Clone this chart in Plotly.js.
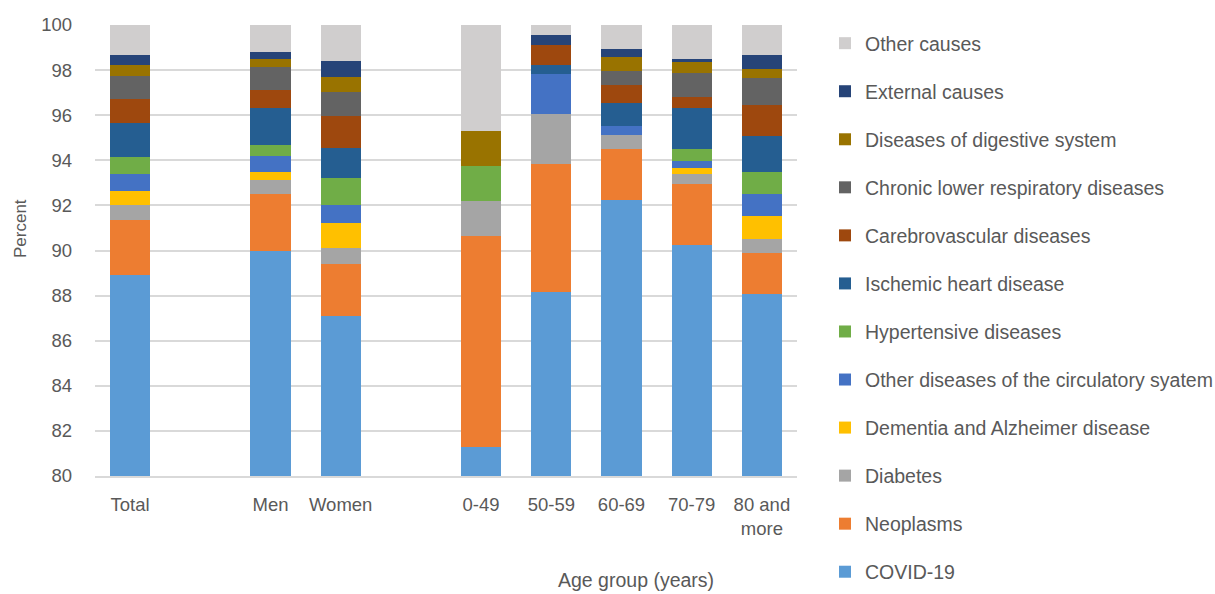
<!DOCTYPE html>
<html>
<head>
<meta charset="utf-8">
<script src="https://cdn.plot.ly/plotly-3.0.1.min.js"></script>
<style>html,body{margin:0;padding:0;background:#fff;}#chart{width:1215px;height:594px;}</style>
</head>
<body>
<div id="chart"></div>
<script>
// Category slots (blank slots give the gaps between groups)
var categoryOrder = ["Total", " ", "Men", "Women", "  ", "0-49", "50-59", "60-69", "70-79", "80 and<br>more"];
var categories = ["Total", "Men", "Women", "0-49", "50-59", "60-69", "70-79", "80 and<br>more"];

// Series (bottom to top), percent of deaths
var covid      = [88.92, 90.00, 87.09, 81.27, 88.16, 92.26, 90.25, 88.06];
var neoplasms  = [2.44, 2.51, 2.32, 9.37, 5.68, 2.22, 2.72, 1.83];
var diabetes   = [0.64, 0.61, 0.69, 1.55, 2.20, 0.62, 0.44, 0.61];
var dementia   = [0.63, 0.35, 1.10, 0, 0, 0, 0.25, 1.03];
var otherCirc  = [0.77, 0.73, 0.82, 0, 1.78, 0.42, 0.29, 0.98];
var hypert     = [0.74, 0.47, 1.20, 1.55, 0, 0, 0.53, 0.99];
var ischemic   = [1.53, 1.64, 1.34, 0, 0.40, 1.01, 1.83, 1.59];
var cerebro    = [1.04, 0.80, 1.42, 0, 0.89, 0.80, 0.50, 1.38];
var chronic    = [1.01, 1.01, 1.07, 0, 0, 0.61, 1.05, 1.16];
var digestive  = [0.51, 0.38, 0.64, 1.56, 0, 0.64, 0.51, 0.44];
var external   = [0.42, 0.30, 0.71, 0, 0.43, 0.37, 0.13, 0.58];
var otherCause = [1.35, 1.20, 1.60, 4.70, 0.46, 1.05, 1.50, 1.35];

var seriesNames = ["COVID-19", "Neoplasms", "Diabetes", "Dementia and Alzheimer disease",
  "Other diseases of the circulatory syatem", "Hypertensive diseases", "Ischemic heart disease",
  "Carebrovascular diseases", "Chronic lower respiratory diseases", "Diseases of digestive system",
  "External causes", "Other causes"];
var seriesValues = [covid, neoplasms, diabetes, dementia, otherCirc, hypert, ischemic, cerebro,
  chronic, digestive, external, otherCause];
var seriesColors = ["#5B9BD5", "#ED7D31", "#A5A5A5", "#FFC000", "#4472C4", "#70AD47", "#255E91",
  "#9E480E", "#636363", "#997300", "#264478", "#D0CECE"];

var yTicks = [80, 82, 84, 86, 88, 90, 92, 94, 96, 98, 100];

var FONT = "Liberation Sans, Arial, sans-serif";
var TXT = "#595959";

var traces = seriesNames.map(function (n, i) {
  return {
    type: "bar",
    name: n,
    x: categories,
    y: seriesValues[i],
    legendgroup: "g" + i,
    legendrank: seriesNames.length - i,
    marker: { color: seriesColors[i], line: { width: 0 } },
    hoverinfo: "name+y"
  };
});

var W = 1215, H = 594, L = 95, R = 418, T = 25, B = 118;
var pw = W - L - R, ph = H - T - B;

var layout = {
  width: W, height: H,
  margin: { l: L, r: R, t: T, b: B, pad: 0, autoexpand: false },
  paper_bgcolor: "#ffffff",
  plot_bgcolor: "#ffffff",
  barmode: "stack",
  bargap: 0.43,
  font: { family: FONT, color: TXT, size: 18 },
  xaxis: {
    type: "category",
    categoryorder: "array",
    categoryarray: categoryOrder,
    range: [-0.5, 9.5],
    showgrid: false,
    showline: true,
    linecolor: "#D9D9D9",
    linewidth: 1.5,
    ticks: "",
    tickangle: 0,
    automargin: false,
    ticklabelstandoff: 11,
    tickfont: { family: FONT, size: 18.5, color: TXT },
    fixedrange: true
  },
  yaxis: {
    range: [80, 100],
    tickvals: yTicks,
    ticktext: yTicks.map(String),
    showgrid: true,
    gridcolor: "#D9D9D9",
    gridwidth: 1.5,
    zeroline: false,
    showline: false,
    ticks: "",
    automargin: false,
    ticklabelstandoff: 22,
    tickfont: { family: FONT, size: 18.5, color: TXT },
    fixedrange: true
  },
  legend: {
    x: (825 - L) / pw,
    xanchor: "left",
    y: 1 + (T - 24) / ph,
    yanchor: "top",
    traceorder: "grouped",
    tracegroupgap: 19.7,
    maxheight: 594,
    font: { family: FONT, size: 19.5, color: TXT },
    bgcolor: "rgba(0,0,0,0)",
    itemclick: false,
    itemdoubleclick: false
  },
  annotations: [
    {
      text: "Percent", xref: "paper", yref: "paper",
      x: (20 - L) / pw, y: 1 - (229 - T) / ph,
      xanchor: "center", yanchor: "middle", textangle: -90, showarrow: false,
      font: { family: FONT, size: 17, color: TXT }
    },
    {
      text: "Age group (years)", xref: "paper", yref: "paper",
      x: (636 - L) / pw, y: 1 - (580 - T) / ph,
      xanchor: "center", yanchor: "middle", showarrow: false,
      font: { family: FONT, size: 19.5, color: TXT }
    }
  ],
  showlegend: true
};

Plotly.newPlot("chart", traces, layout, { displayModeBar: false });
</script>
</body>
</html>
